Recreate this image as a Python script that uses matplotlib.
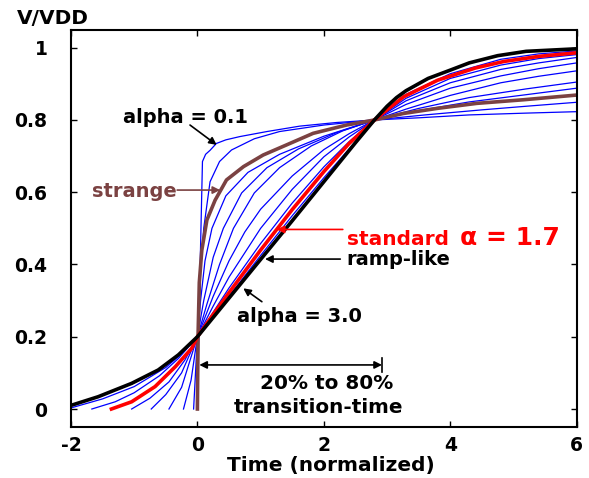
import matplotlib
matplotlib.use("Agg")
import matplotlib.pyplot as plt

# curves (time normalized, V/VDD)
black_x = [-2.0, -1.57, -1.04, -0.62, -0.30, 0.0, 0.5, 1.0, 1.5, 2.0, 2.5, 2.8, 3.0, 3.15, 3.3, 3.65, 4.0, 4.3, 4.75, 5.2, 6.0]
black_y = [0.010, 0.034, 0.071, 0.108, 0.150, 0.200, 0.307, 0.414, 0.521, 0.629, 0.737, 0.800, 0.838, 0.862, 0.881, 0.915, 0.938, 0.958, 0.978, 0.990, 0.997]

red_x = [-1.36, -1.04, -0.67, -0.35, -0.09, 0.0, 0.25, 0.5, 1.0, 1.5, 2.0, 2.4, 2.8, 3.26, 3.8, 4.4, 4.85, 5.4, 6.0]
red_y = [0.000, 0.020, 0.062, 0.117, 0.168, 0.200, 0.262, 0.322, 0.440, 0.552, 0.657, 0.735, 0.800, 0.864, 0.910, 0.944, 0.962, 0.976, 0.986]

brown_x = [0.0, 0.01, 0.03, 0.07, 0.15, 0.28, 0.46, 0.73, 1.04, 1.41, 1.83, 2.36, 2.8, 3.26, 3.79, 4.42, 5.16, 6.0]
brown_y = [0.000, 0.200, 0.350, 0.440, 0.523, 0.578, 0.634, 0.671, 0.703, 0.731, 0.763, 0.786, 0.800, 0.818, 0.832, 0.846, 0.856, 0.869]

# blue family, alpha = 0.1 first
b1_x = [0.01, 0.02, 0.05, 0.08, 0.13, 0.2, 0.3, 0.45, 0.67, 1.1, 1.62, 2.2, 2.8, 3.5, 4.3, 5.2, 6.0]
b1_y = [0.000, 0.200, 0.450, 0.685, 0.705, 0.716, 0.735, 0.745, 0.754, 0.768, 0.783, 0.793, 0.800, 0.806, 0.814, 0.819, 0.823]
b2_x = [0.0, 0.02, 0.05, 0.1, 0.2, 0.35, 0.54, 0.9, 1.3, 2.0, 2.8, 3.6, 4.5, 5.2, 6.0]
b2_y = [0.000, 0.200, 0.380, 0.500, 0.629, 0.685, 0.717, 0.748, 0.768, 0.786, 0.800, 0.814, 0.828, 0.838, 0.849]
b3_x = [-0.06, 0.0, 0.05, 0.12, 0.23, 0.45, 0.8, 1.3, 2.0, 2.8, 3.5, 4.3, 5.2, 6.0]
b3_y = [0.000, 0.200, 0.300, 0.410, 0.500, 0.590, 0.655, 0.705, 0.755, 0.800, 0.826, 0.850, 0.870, 0.888]
b4_x = [-0.22, -0.1, 0.0, 0.1, 0.25, 0.41, 0.7, 1.1, 1.6, 2.2, 2.8, 3.5, 4.3, 5.2, 6.0]
b4_y = [0.000, 0.080, 0.200, 0.300, 0.420, 0.500, 0.598, 0.668, 0.720, 0.765, 0.800, 0.832, 0.862, 0.886, 0.905]
b5_x = [-0.45, -0.25, 0.0, 0.15, 0.35, 0.57, 0.9, 1.3, 1.8, 2.3, 2.8, 3.3, 4.0, 4.8, 5.4, 6.0]
b5_y = [0.000, 0.060, 0.200, 0.290, 0.400, 0.500, 0.598, 0.668, 0.728, 0.770, 0.800, 0.830, 0.868, 0.903, 0.921, 0.936]
b6_x = [-0.73, -0.5, -0.25, 0.0, 0.25, 0.5, 0.75, 1.0, 1.5, 2.0, 2.4, 2.8, 3.3, 4.0, 4.8, 5.4, 6.0]
b6_y = [0.000, 0.040, 0.100, 0.200, 0.312, 0.410, 0.490, 0.553, 0.645, 0.718, 0.762, 0.800, 0.843, 0.888, 0.922, 0.942, 0.958]
b7_x = [-1.04, -0.75, -0.45, -0.2, 0.0, 0.25, 0.5, 1.0, 1.5, 2.0, 2.4, 2.8, 3.3, 4.0, 4.8, 5.4, 6.0]
b7_y = [0.000, 0.030, 0.075, 0.135, 0.200, 0.285, 0.365, 0.500, 0.608, 0.698, 0.753, 0.800, 0.853, 0.903, 0.940, 0.958, 0.973]
b8_x = [-1.67, -1.3, -1.0, -0.6, -0.3, 0.0, 0.25, 0.5, 1.0, 1.5, 2.0, 2.4, 2.8, 3.3, 4.0, 4.8, 5.4, 6.0]
b8_y = [0.000, 0.020, 0.045, 0.092, 0.140, 0.200, 0.268, 0.335, 0.458, 0.570, 0.670, 0.740, 0.800, 0.860, 0.915, 0.952, 0.970, 0.981]
b9_x = [-2.0, -1.5, -1.0, -0.5, -0.25, 0.0, 0.5, 1.0, 1.5, 2.0, 2.8, 3.3, 4.0, 4.8, 5.4, 6.0]
b9_y = [0.003, 0.028, 0.062, 0.115, 0.153, 0.200, 0.312, 0.425, 0.535, 0.640, 0.800, 0.871, 0.928, 0.968, 0.983, 0.991]

xticks = [-2, 0, 2, 4, 6]
xtick_labels = ["-2", "0", "2", "4", "6"]
yticks = [0, 0.2, 0.4, 0.6, 0.8, 1.0]
ytick_labels = ["0", "0.2", "0.4", "0.6", "0.8", "1"]

plt.rcParams["font.family"] = "DejaVu Sans"
plt.rcParams["font.weight"] = "bold"
plt.rcParams["axes.unicode_minus"] = False

BROWN = "#7b4242"

fig = plt.figure(figsize=(5.89, 4.78), dpi=100)
ax = fig.add_axes([0.1205, 0.1073, 0.8586, 0.8299])

blues = [(b1_x, b1_y), (b2_x, b2_y), (b3_x, b3_y), (b4_x, b4_y), (b5_x, b5_y),
         (b6_x, b6_y), (b7_x, b7_y), (b8_x, b8_y), (b9_x, b9_y)]
for bx, by in blues:
    ax.plot(bx, by, color="#0000ff", lw=0.9)
ax.plot(brown_x, brown_y, color=BROWN, lw=2.6)
ax.plot(red_x, red_y, color="#ff0000", lw=2.6)
ax.plot(black_x, black_y, color="black", lw=2.6)

ax.set_xlim(-2, 6)
ax.set_ylim(-0.049, 1.049)
ax.set_xticks(xticks)
ax.set_xticklabels(xtick_labels)
ax.set_yticks(yticks)
ax.set_yticklabels(ytick_labels)
ax.tick_params(direction="in", top=True, right=True, length=4, width=1, labelsize=13.5)
ax.tick_params(axis="y", pad=17)
ax.tick_params(axis="x", pad=7)
for sp in ax.spines.values():
    sp.set_linewidth(1.5)


def arrow(head, tail, color="black", style="-|>"):
    ax.annotate("", xy=head, xytext=tail,
                arrowprops=dict(arrowstyle=style, color=color, lw=1.2,
                                mutation_scale=11, shrinkA=0, shrinkB=0))


ax.text(-1.177, 0.792, "alpha = 0.1", fontsize=14, va="baseline", ha="left")
arrow((0.305, 0.731), (-0.117, 0.786))

ax.text(-1.668, 0.588, "strange", fontsize=14, va="baseline", ha="left", color=BROWN)
arrow((0.36, 0.606), (-0.32, 0.606), color=BROWN)

ax.text(2.362, 0.454, "standard", fontsize=14.5, va="baseline", ha="left", color="#ff0000")
ax.text(4.155, 0.454, "\u03b1 = 1.7", fontsize=18, va="baseline", ha="left", color="#ff0000")
arrow((1.255, 0.497), (2.30, 0.497), color="#ff0000")

ax.text(2.362, 0.399, "ramp-like", fontsize=14, va="baseline", ha="left")
arrow((1.07, 0.415), (2.26, 0.415))

ax.text(0.622, 0.24, "alpha = 3.0", fontsize=14, va="baseline", ha="left")
arrow((0.726, 0.334), (1.02, 0.297))

arrow((0.03, 0.122), (2.92, 0.122), style="<|-|>")
ax.plot([2.92, 2.92], [0.103, 0.141], color="black", lw=1.2)
ax.text(2.045, 0.054, "20% to 80%", fontsize=14.4, va="baseline", ha="center")
ax.text(1.915, -0.012, "transition-time", fontsize=14.4, va="baseline", ha="center")

fig.text(0.029, 0.95, "V/VDD", fontsize=14.5, va="baseline", ha="left")
fig.text(0.562, 0.0153, "Time (normalized)", fontsize=14.5, va="baseline", ha="center")

fig.savefig("out.png", dpi=100)
